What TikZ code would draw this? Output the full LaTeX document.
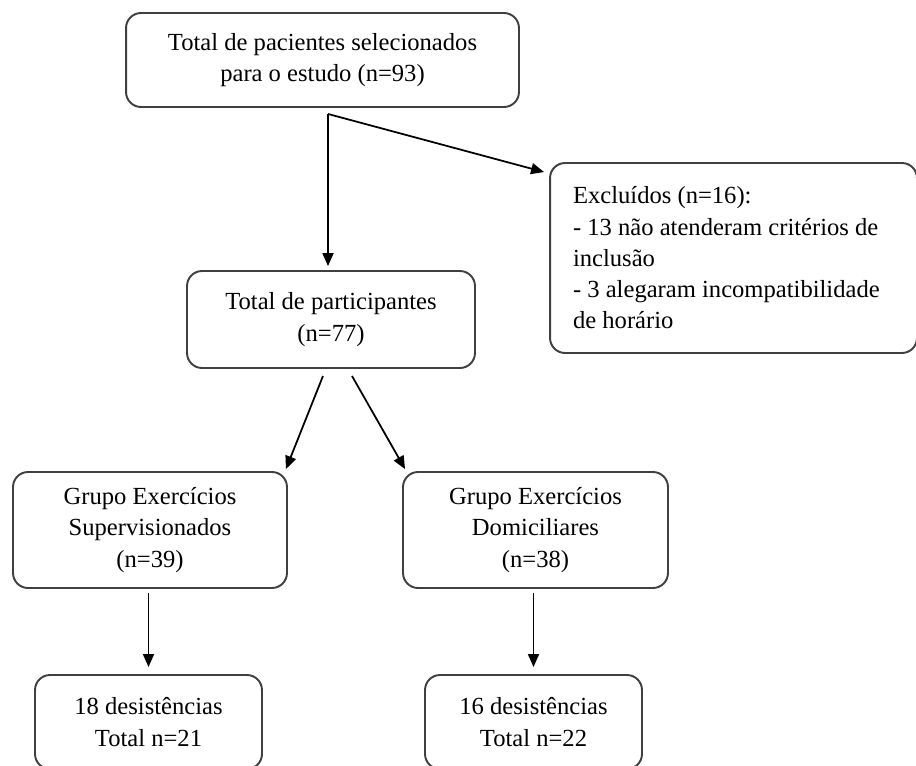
\documentclass[tikz,border=0pt]{standalone}
\usepackage{fontspec}
\setmainfont{Liberation Serif}
\usepackage{xcolor}
\usepackage{tikz}
\usetikzlibrary{arrows.meta,calc}

\begin{document}
\begin{tikzpicture}[x=0.02cm, y=-0.02cm,
	box/.style={draw=black!75, line width=1.1pt, rounded corners=0.3cm, align=center, inner sep=2pt,
		font=\fontsize{14}{17.8}\selectfont},
	arr/.style={line width=1pt, -{Triangle[length=0.26cm, width=0.22cm]}},]

\useasboundingbox (0,0) rectangle (916,765);

\node [box, minimum width=7.86cm, minimum height=1.88cm] (pac) at (322.5,60) {Total de pacientes selecionados\\para o estudo (n=93)};
\node [box, text width=6.42cm, inner xsep=0.46cm, minimum height=3.8cm, align=flush left] (exc) at (733.5,258) {Excluídos (n=16):\\- 13 não atenderam critérios de\\inclusão\\- 3 alegaram incompatibilidade\\de horário};
\node [box, minimum width=5.76cm, minimum height=1.94cm] (par) at (331,319.5) {Total de participantes\\(n=77)};
\node [box, minimum width=5.48cm, minimum height=2.32cm] (sup) at (150,530) {Grupo Exercícios\\Supervisionados\\(n=39)};
\node [box, minimum width=5.3cm, minimum height=2.32cm] (dom) at (535.5,530) {Grupo Exercícios\\Domiciliares\\(n=38)};
\node [box, minimum width=4.54cm, minimum height=1.88cm] (des1) at (148.5,722) {18 desistências\\Total n=21};
\node [box, minimum width=4.34cm, minimum height=1.88cm] (des2) at (533.5,722) {16 desistências\\Total n=22};

\coordinate (split) at ($(pac.south)+(5.5,6)$);
\coordinate (excin) at ($(exc.north west)+(-5,10)$);

	\draw [arr] (split) -- ([yshift=0.08cm]split |- par.north);
	\draw [arr] (split) -- (excin);
	\draw [arr] ($(par.south)+(-8,7)$) -- ($(sup.north east)+(-2,-2)$);
	\draw [arr] ($(par.south)+(21,7)$) -- ($(dom.north west)+(3,-2)$);
	\draw [arr, shorten <=0.08cm, shorten >=0.14cm] (sup.south -| des1.north) -- (des1.north);
	\draw [arr, shorten <=0.08cm, shorten >=0.14cm] (dom.south -| des2.north) -- (des2.north);

\end{tikzpicture}
\end{document}
